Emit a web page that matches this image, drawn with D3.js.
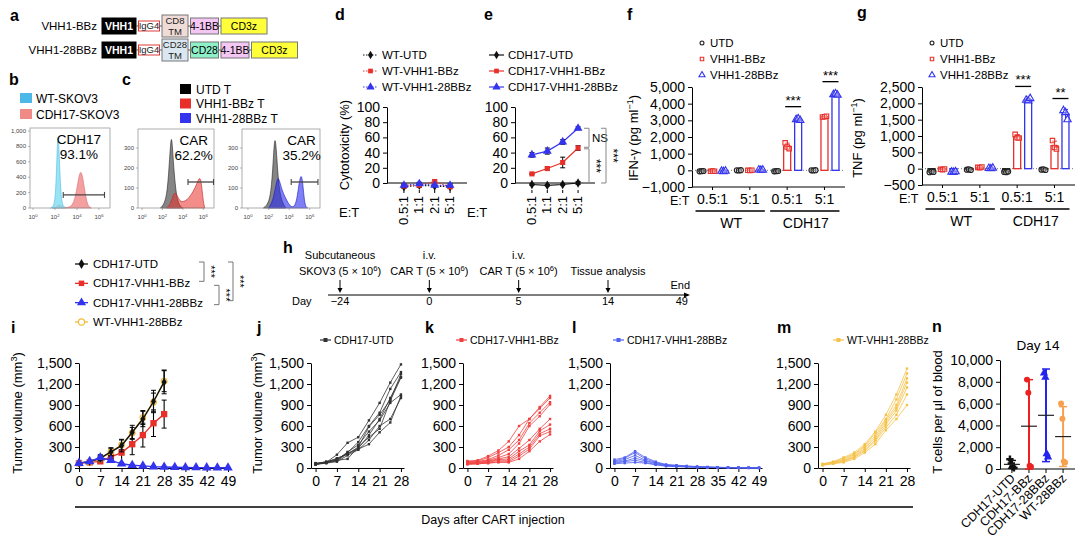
<!DOCTYPE html>
<html><head><meta charset="utf-8">
<script src="https://cdn.jsdelivr.net/npm/d3@7"></script>
<style>
body{margin:0;background:#fff}
svg{display:block;font-family:"Liberation Sans",Arial,Helvetica,sans-serif}
</style></head><body>
<svg id="fig" width="1080" height="549"></svg>
<script>
// ================= DATA =================
// a
const constructNames = ["VHH1-BBz", "VHH1-28BBz"];
const partsBBz = ["VHH1", "IgG4", "CD8 TM", "4-1BB", "CD3z"];
const parts28BBz = ["VHH1", "IgG4", "CD28 TM", "CD28", "4-1BB", "CD3z"];
// b  (log10 fluorescence, count)
const bLegend = ["WT-SKOV3", "CDH17-SKOV3"];
const histWT = [[1.6,0],[1.8,15],[1.95,60],[2.05,200],[2.15,520],[2.22,860],[2.28,950],[2.35,820],[2.45,450],[2.55,180],[2.65,60],[2.8,10],[3.0,0]];
const histCDH17 = [[1.8,0],[2.1,15],[2.3,40],[2.45,45],[2.6,20],[2.9,5],[3.3,8],[3.6,40],[3.85,140],[4.05,300],[4.2,430],[4.35,480],[4.5,420],[4.7,230],[4.9,70],[5.1,10],[5.3,0]];
const gateB = [2.75, 6.5, 170];
const bText = ["CDH17", "93.1%"];
const bYTicks = [0, 200, 400, 600, 800, 1000];
// c
const cLegend = ["UTD T", "VHH1-BBz T", "VHH1-28BBz T"];
const histUTD1 = [[1.8,0],[2.2,20],[2.5,90],[2.7,250],[2.85,360],[2.95,330],[3.1,200],[3.3,90],[3.5,30],[3.8,5],[4.0,0]];
const histBBz = [[2.4,0],[2.8,20],[3.05,65],[3.25,80],[3.45,60],[3.7,35],[4.0,30],[4.4,40],[4.8,65],[5.2,100],[5.5,140],[5.7,155],[5.85,110],[6.0,30],[6.15,0]];
const histUTD2 = [[1.5,0],[2.0,20],[2.3,100],[2.5,280],[2.62,360],[2.75,300],[2.9,170],[3.1,70],[3.4,20],[3.7,0]];
const hist28BBz = [[2.0,0],[2.4,30],[2.7,110],[2.9,155],[3.05,140],[3.3,90],[3.6,55],[3.9,25],[4.2,5],[4.5,5],[4.75,40],[4.95,120],[5.15,170],[5.3,140],[5.45,50],[5.6,5],[5.8,0]];
const gateC1 = [4.5, 7.0, 130];
const gateC2 = [4.2, 6.8, 130];
const c1Text = ["CAR", "62.2%"];
const c2Text = ["CAR", "35.2%"];
const cYTicks = [0, 100, 200, 300];
const logTicks = [0, 2, 4, 6];
// d, e  cytotoxicity (%)
const etRatios = ["0.5:1", "1:1", "2:1", "5:1"];
const dNames = ["WT-UTD", "WT-VHH1-BBz", "WT-VHH1-28BBz"];
const wtUTD = [-5, -3, -4, -5],   wtUTDsd = [2, 2, 1, 2];
const wtBBz = [-4, -3, 2, -5],    wtBBzSd = [2, 3, 2, 1];
const wt28BBz = [-3, -1, -3, -3], wt28BBzSd = [2, 2, 1, 2];
const eNames = ["CDH17-UTD", "CDH17-VHH1-BBz", "CDH17-VHH1-28BBz"];
const cdhUTD = [-2, -3, -2, 0],      cdhUTDsd = [1, 1, 1, 2];
const cdhBBz = [12, 19, 27, 46],     cdhBBzSd = [1, 2, 7, 3];
const cdh28BBz = [37, 42, 54, 72],   cdh28BBzSd = [3, 4, 3, 2];
const cytoTicks = [0, 20, 40, 60, 80, 100];
// f, g  cytokines (pg/ml), replicates
const cyGroups = ["WT 0.5:1", "WT 5:1", "CDH17 0.5:1", "CDH17 5:1"];
const cyTickLabels = ["0.5:1", "5:1", "0.5:1", "5:1"];
const cyTargets = ["WT", "CDH17"];
const cyNames = ["UTD", "VHH1-BBz", "VHH1-28BBz"];
const ifnUTD   = [[-60,-50,-40], [0,-10,10], [-60,-50,-40], [0,-10,10]];
const ifnBBz   = [[-60,-40,-50], [0,-10,10], [1650,1400,1300], [3200,3220,3250]];
const ifn28BBz = [[-50,-70,-40], [30,10,20], [3050,3100,3000], [4550,4600,4520]];
const ifnTicks = [-1000, 0, 1000, 2000, 3000, 4000, 5000];
const tnfUTD   = [[-110,-90,-100], [-30,-20,-40], [-100,-110,-90], [-30,-20,-40]];
const tnfBBz   = [[-20,-30,-10], [40,30,50], [1050,950,940], [860,650,600]];
const tnf28BBz = [[-100,-110,-90], [10,0,20], [2100,2080,2150], [1780,1720,1500]];
const tnfTicks = [-500, 0, 500, 1000, 1500, 2000, 2500];
const ifnSig = [["CDH17 0.5:1", "***"], ["CDH17 5:1", "***"]];
const tnfSig = [["CDH17 0.5:1", "***"], ["CDH17 5:1", "**"]];
// h  timeline
const hDays = ["−24", "0", "5", "14"];
const hTop = ["Subcutaneous", "i.v.", "i.v.", ""];
const hMid = [["SKOV3 (5 × 10", "6", ")"], ["CAR T (5 × 10", "6", ")"], ["CAR T (5 × 10", "6", ")"], ["Tissue analysis", "", ""]];
const hEnd = ["End", "49"];
// i  mean tumour volume (mm3)
const iNames = ["CDH17-UTD", "CDH17-VHH1-BBz", "CDH17-VHH1-28BBz", "WT-VHH1-28BBz"];
const daysShort = [0, 3.5, 7, 10.5, 14, 17.5, 21, 24.5, 28];
const daysLong = [0, 3.5, 7, 10.5, 14, 17.5, 21, 24.5, 28, 31.5, 35, 38.5, 42, 45.5, 49];
const iUTD = [70, 90, 140, 230, 320, 510, 700, 950, 1230];
const iUTDerr = [10, 15, 40, 60, 90, 100, 110, 160, 170];
const iBBz = [70, 80, 95, 160, 220, 340, 470, 640, 770];
const iBBzErr = [10, 15, 30, 60, 140, 150, 170, 190, 200];
const i28BBz = [70, 95, 150, 110, 60, 40, 30, 20, 15, 10, 8, 6, 5, 4, 3];
const i28BBzErr = [10, 15, 40, 30, 15, 10, 8, 6, 5, 4, 3, 3, 2, 2, 2];
const iWT = [70, 85, 130, 230, 330, 500, 720, 940, 1240];
const iWTerr = [10, 15, 40, 50, 70, 80, 100, 130, 150];
const volTicks = [0, 300, 600, 900, 1200, 1500];
const ticks28 = [0, 7, 14, 21, 28];
const ticks49 = [0, 7, 14, 21, 28, 35, 42, 49];
// j-m individual mice
const jMice = [
 [60, 80, 190, 360, 440, 680, 930, 1220, 1480],
 [50, 70, 120, 220, 370, 600, 790, 1130, 1370],
 [60, 90, 130, 200, 300, 590, 760, 970, 1340],
 [50, 80, 100, 210, 280, 470, 700, 1000, 1300],
 [70, 80, 110, 230, 330, 520, 680, 930, 1050],
 [60, 70, 90, 180, 260, 400, 600, 700, 1000],
 [50, 80, 140, 200, 270, 340, 510, 650, 1030],
 [60, 90, 110, 130, 300, 440, 560, 960, 1290]];
const kMice = [
 [100, 110, 170, 250, 380, 600, 700, 870, 1030],
 [90, 100, 150, 220, 300, 470, 700, 850, 1000],
 [80, 90, 120, 180, 260, 400, 640, 790, 940],
 [80, 90, 110, 150, 200, 350, 600, 740, 910],
 [70, 80, 100, 130, 160, 280, 400, 560, 700],
 [70, 70, 90, 120, 130, 240, 330, 530, 620],
 [60, 70, 80, 110, 110, 200, 300, 490, 560],
 [60, 60, 70, 90, 90, 170, 270, 460, 520],
 [50, 60, 70, 80, 80, 130, 240, 380, 480]];
const lMice = [
 [120, 150, 240, 150, 90, 50, 40, 30, 20, 15, 10, 8, 5, 3, 2],
 [100, 140, 220, 130, 80, 45, 35, 25, 18, 12, 9, 6, 4, 3, 2],
 [90, 120, 180, 110, 70, 40, 30, 22, 15, 10, 8, 5, 4, 2, 1],
 [80, 100, 140, 100, 60, 35, 25, 20, 14, 10, 7, 5, 3, 2, 1],
 [70, 90, 110, 80, 50, 30, 22, 18, 12, 9, 6, 4, 3, 2, 1],
 [60, 70, 80, 70, 45, 25, 20, 15, 10, 8, 5, 3, 2, 1, 1]];
const mMice = [
 [60, 90, 150, 220, 340, 520, 760, 1050, 1420],
 [55, 85, 140, 200, 320, 500, 700, 980, 1350],
 [50, 80, 120, 190, 300, 460, 680, 900, 1280],
 [50, 75, 110, 170, 280, 430, 650, 860, 1220],
 [45, 70, 100, 160, 260, 400, 620, 820, 1150],
 [40, 65, 90, 150, 240, 380, 580, 760, 1050],
 [40, 60, 80, 130, 220, 340, 540, 700, 900]];
// n  T cells per ul blood, day 14
const nGroups = ["CDH17-UTD", "CDH17-BBz", "CDH17-28BBz", "WT-28BBz"];
const nUTD = [900, 500, 200, 100];
const nBBz = [8200, 7000, 300, 200];
const n28BBz = [8800, 8400, 1400, 1100];
const nWT = [6000, 4600, 700, 600];
const nTicks = [0, 2000, 4000, 6000, 8000, 10000];

// ================= STYLE / HELPERS =================
const FONT = '"Liberation Sans",Arial,Helvetica,sans-serif';
const COL = {black: "#111", red: "#e8302a", blue: "#3434ee", yellow: "#f2bb35", orange: "#f6a14e", grey: "#555"};
const svg = d3.select("#fig");
svg.append("rect").attr("width", 1080).attr("height", 549).attr("fill", "#fff");

function txt(g, x, y, s, o = {}) {
  const t = g.append("text").attr("x", x).attr("y", y).text(s)
    .attr("font-size", o.size || 12).attr("text-anchor", o.anchor || "start")
    .attr("fill", o.fill || "#000").attr("font-family", FONT);
  if (o.weight) t.attr("font-weight", o.weight);
  if (o.rotate) t.attr("transform", `rotate(${o.rotate},${x},${y})`);
  return t;
}
function rich(g, x, y, parts, o = {}) {
  const t = g.append("text").attr("x", x).attr("y", y).attr("font-size", o.size || 12)
    .attr("text-anchor", o.anchor || "start").attr("font-family", FONT).attr("fill", o.fill || "#000");
  if (o.rotate) t.attr("transform", `rotate(${o.rotate},${x},${y})`);
  t.append("tspan").text(parts[0]);
  if (parts[1]) t.append("tspan").text(parts[1]).attr("baseline-shift", "super").attr("font-size", "70%");
  if (parts[2]) t.append("tspan").text(parts[2]);
  return t;
}
function sym(type, size) {
  const m = {diamond: d3.symbolDiamond, square: d3.symbolSquare, triangle: d3.symbolTriangle, circle: d3.symbolCircle, cross: d3.symbolCross};
  return d3.symbol().type(m[type]).size(size)();
}
function styleAxis(a, size) {
  a.attr("font-family", FONT);
  a.selectAll("text").attr("font-size", size || 14).attr("fill", "#000");
  a.selectAll("line").attr("stroke", "#000");
  a.select(".domain").attr("stroke", "#000");
  return a;
}
const fmtComma = d3.format(",");

// ================= PANEL LABELS =================
const panelLabels = [["a",10,21],["b",9,85],["c",122,85],["d",335,20],["e",484,20],["f",627,20],["g",857,18],["h",283,253],["i",11,333],["j",257,333],["k",425,333],["l",572,333],["m",777,333],["n",932,332]];
panelLabels.forEach(p => txt(svg, p[1], p[2], p[0], {size: 16, weight: "bold"}));

// ================= A =================
(function () {
  const g = svg.append("g");
  const style = {
    "VHH1": {w: 34, h: 16, fill: "#000", stroke: "#000", color: "#fff", bold: true, size: 10.5},
    "IgG4": {w: 21, h: 10, fill: "#fff", stroke: "#e03a3a", color: "#222", size: 9.5},
    "CD8 TM": {w: 26, h: 22, fill: "#efdcd6", stroke: "#777", color: "#222", size: 9.5},
    "CD28 TM": {w: 26, h: 22, fill: "#dbe7f0", stroke: "#777", color: "#222", size: 9.5},
    "CD28": {w: 28, h: 16, fill: "#8ef0c8", stroke: "#777", color: "#000", size: 10.5},
    "4-1BB": {w: 28, h: 16, fill: "#f4c6f4", stroke: "#777", color: "#000", size: 10.5},
    "CD3z": {w: 46, h: 16, fill: "#ffff3a", stroke: "#777", color: "#000", size: 10.5}
  };
  const rows = [partsBBz, parts28BBz];
  const cy = d3.scalePoint().domain(constructNames).range([26, 50]);
  rows.forEach((parts, ri) => {
    const y = cy(constructNames[ri]);
    txt(g, 97, y + 4, constructNames[ri], {size: 11.5, anchor: "end"});
    let x = 102;
    parts.forEach((p, pi) => {
      const s = style[p];
      if (pi > 0) g.append("line").attr("x1", x - 2.5).attr("x2", x).attr("y1", y).attr("y2", y).attr("stroke", "#555").attr("stroke-width", 1);
      g.append("rect").attr("x", x).attr("y", y - s.h / 2).attr("width", s.w).attr("height", s.h)
        .attr("fill", s.fill).attr("stroke", s.stroke).attr("stroke-width", 1);
      const words = p.split(" ");
      if (words.length === 2) {
        txt(g, x + s.w / 2, y - 2, words[0], {size: s.size, anchor: "middle", fill: s.color});
        txt(g, x + s.w / 2, y + 9, words[1], {size: s.size, anchor: "middle", fill: s.color});
      } else {
        txt(g, x + s.w / 2, y + s.size * 0.36, p, {size: s.size, anchor: "middle", fill: s.color, weight: s.bold ? "bold" : null});
      }
      x += s.w + 2.5;
    });
  });
})();

// ================= B, C histograms =================
function histPlot(frame, xdom, ydom, yticks, series, gate, lines) {
  const g = svg.append("g");
  const x = d3.scaleLinear().domain(xdom).range([frame[0], frame[1]]);
  const y = d3.scaleLinear().domain(ydom).range([frame[3], frame[2]]);
  const area = d3.area().x(d => x(d[0])).y0(y(0)).y1(d => y(d[1])).curve(d3.curveBasis);
  series.forEach(s => {
    g.append("path").datum(s.data).attr("d", area).attr("fill", s.fill).attr("fill-opacity", s.op)
      .attr("stroke", s.stroke).attr("stroke-width", 0.6);
  });
  g.append("rect").attr("x", frame[0]).attr("y", frame[2]).attr("width", frame[1] - frame[0]).attr("height", frame[3] - frame[2])
    .attr("fill", "none").attr("stroke", "#9a9a9a").attr("stroke-width", 0.8);
  yticks.forEach(v => {
    g.append("line").attr("x1", frame[0] - 2).attr("x2", frame[0]).attr("y1", y(v)).attr("y2", y(v)).attr("stroke", "#888").attr("stroke-width", 0.6);
    txt(g, frame[0] - 4, y(v) + 2, fmtComma(v), {size: 6, anchor: "end", fill: "#444"});
  });
  logTicks.forEach(v => {
    g.append("line").attr("x1", x(v)).attr("x2", x(v)).attr("y1", frame[3]).attr("y2", frame[3] + 2).attr("stroke", "#888").attr("stroke-width", 0.6);
    rich(g, x(v), frame[3] + 11, ["10", String(v), ""], {size: 6, anchor: "middle", fill: "#444"});
  });
  const gy = y(gate[2]);
  g.append("line").attr("x1", x(gate[0])).attr("x2", x(gate[1])).attr("y1", gy).attr("y2", gy).attr("stroke", "#444").attr("stroke-width", 1.3);
  [gate[0], gate[1]].forEach(v => g.append("line").attr("x1", x(v)).attr("x2", x(v)).attr("y1", gy - 3).attr("y2", gy + 3).attr("stroke", "#444").attr("stroke-width", 1.1));
  const cx = x((gate[0] + gate[1]) / 2) + lines.dx;
  txt(g, cx, frame[2] + 16, lines.t[0], {size: 13.5, anchor: "middle"});
  txt(g, cx, frame[2] + 31, lines.t[1], {size: 13.5, anchor: "middle"});
}
[["#4cb8e8", bLegend[0]], ["#f08a84", bLegend[1]]].forEach(d => {
  const yc = d3.scalePoint().domain(bLegend).range([98, 114])(d[1]);
  svg.append("rect").attr("x", 20).attr("y", yc - 5).attr("width", 12).attr("height", 10).attr("fill", d[0]);
  txt(svg, 36, yc + 4.5, d[1], {size: 12});
});
histPlot([30, 110, 128, 208], [-0.27, 7.0], [0, 1040], bYTicks,
  [{data: histCDH17, fill: "#f08080", stroke: "#d86a6a", op: 0.75}, {data: histWT, fill: "#80dcf2", stroke: "#4cbde6", op: 0.8}],
  gateB, {t: bText, dx: -5});
[["#000", cLegend[0]], ["#e8302a", cLegend[1]], ["#3434ee", cLegend[2]]].forEach(d => {
  const yc = d3.scalePoint().domain(cLegend).range([89, 118])(d[1]);
  svg.append("rect").attr("x", 180).attr("y", yc - 5).attr("width", 11).attr("height", 10).attr("fill", d[0]);
  txt(svg, 196, yc + 4.5, d[1], {size: 12});
});
histPlot([138, 214, 129, 208], [-0.4, 7.05], [0, 395], cYTicks,
  [{data: histUTD1, fill: "#333", stroke: "#222", op: 0.6}, {data: histBBz, fill: "#e8302a", stroke: "#c02020", op: 0.55}],
  gateC1, {t: c1Text, dx: -7});
histPlot([242, 320, 129, 208], [-0.58, 7.0], [0, 395], cYTicks,
  [{data: histUTD2, fill: "#333", stroke: "#222", op: 0.6}, {data: hist28BBz, fill: "#2a2af0", stroke: "#1818c0", op: 0.6}],
  gateC2, {t: c2Text, dx: -3});

// ================= D, E cytotoxicity =================
function cytoPanel(ax0, ax1, names, series, dashed, legX, brackets) {
  const g = svg.append("g");
  const y = d3.scaleLinear().domain([0, 100]).range([183, 107]);
  const x = d3.scalePoint().domain(etRatios).range([ax0, ax1]).padding(1.1);
  styleAxis(g.append("g").attr("transform", `translate(${ax0},0)`)
    .call(d3.axisLeft(y).tickValues(cytoTicks).tickSize(4).tickPadding(3).tickSizeOuter(0)));
  g.append("line").attr("x1", ax0).attr("x2", ax1).attr("y1", y(0)).attr("y2", y(0)).attr("stroke", "#000");
  etRatios.forEach(r => {
    g.append("line").attr("x1", x(r)).attr("x2", x(r)).attr("y1", 190).attr("y2", 193).attr("stroke", "#000");
    txt(g, x(r) + 4, 196, r, {size: 13, anchor: "end", rotate: -90});
  });
  txt(g, ax0 - 48, 217, "E:T", {size: 13});
  const line = d3.line().x((d, i) => x(etRatios[i])).y(d => y(d));
  series.forEach(s => {
    g.append("path").datum(s.v).attr("d", line).attr("fill", "none").attr("stroke", s.c).attr("stroke-width", 1.2)
      .attr("stroke-dasharray", dashed ? "1.5,1.5" : null);
    s.v.forEach((v, i) => {
      const xx = x(etRatios[i]);
      g.append("line").attr("x1", xx).attr("x2", xx).attr("y1", y(v - s.e[i])).attr("y2", y(v + s.e[i])).attr("stroke", "#000");
      [v - s.e[i], v + s.e[i]].forEach(w => g.append("line").attr("x1", xx - 2.5).attr("x2", xx + 2.5).attr("y1", y(w)).attr("y2", y(w)).attr("stroke", "#000"));
      g.append("path").attr("d", sym(s.m, s.m === "triangle" ? 34 : 26)).attr("transform", `translate(${xx},${y(v)})`).attr("fill", s.c);
    });
  });
  const ly = d3.scalePoint().domain(names).range([55, 87]);
  series.forEach((s, i) => {
    const yy = ly(names[i]);
    g.append("line").attr("x1", legX).attr("x2", legX + 15).attr("y1", yy).attr("y2", yy).attr("stroke", s.c).attr("stroke-width", 1.2).attr("stroke-dasharray", dashed ? "1.5,1.5" : null);
    g.append("path").attr("d", sym(s.m, s.m === "triangle" ? 30 : 22)).attr("transform", `translate(${legX + 7.5},${yy})`).attr("fill", s.c);
    txt(g, legX + 19, yy + 4, names[i], {size: 11.5});
  });
  (brackets || []).forEach(b => {
    const y1 = y(b.from), y2 = y(b.to);
    g.append("path").attr("d", `M${b.x - 5},${y1}H${b.x}V${y2}H${b.x - 5}`).attr("fill", "none").attr("stroke", "#888").attr("stroke-width", 1);
    if (b.label === "NS") txt(g, b.x + 3, (y1 + y2) / 2 + 4, "NS", {size: 11.5});
    else txt(g, b.x + 3, (y1 + y2) / 2, b.label, {size: 12, anchor: "middle", rotate: 90});
  });
}
cytoPanel(387, 467, dNames, [
  {v: wtUTD, e: wtUTDsd, c: COL.black, m: "diamond"},
  {v: wtBBz, e: wtBBzSd, c: COL.red, m: "square"},
  {v: wt28BBz, e: wt28BBzSd, c: COL.blue, m: "triangle"}], true, 363);
cytoPanel(515, 595, eNames, [
  {v: cdhUTD, e: cdhUTDsd, c: COL.black, m: "diamond"},
  {v: cdhBBz, e: cdhBBzSd, c: COL.red, m: "square"},
  {v: cdh28BBz, e: cdh28BBzSd, c: COL.blue, m: "triangle"}], false, 489,
  [{from: cdh28BBz[3], to: cdhBBz[3] + 1, x: 589, label: "NS"},
   {from: cdhBBz[3] - 1, to: 0, x: 589, label: "***"},
   {from: cdh28BBz[3], to: 0, x: 606, label: "***"}]);
rich(svg, 349, 145, ["Cytotoxicity (%)", "", ""], {size: 13, anchor: "middle", rotate: -90});

// ================= F, G cytokines =================
function barPanel(o) {
  const g = svg.append("g");
  const y = d3.scaleLinear().domain(o.dom).range([o.yb, o.yt]);
  const x = d3.scalePoint().domain(cyGroups).range([o.x0, o.x1]).padding(0.55);
  const off = d3.scalePoint().domain(cyNames).range([-11, 11]);
  const jit = d3.scalePoint().domain([0, 1, 2]).range([-2, 2]);
  styleAxis(g.append("g").attr("transform", `translate(${o.x0},0)`)
    .call(d3.axisLeft(y).tickValues(o.ticks).tickFormat(fmtComma).tickSize(4).tickPadding(3).tickSizeOuter(0)));
  g.append("line").attr("x1", o.x0).attr("x2", o.x1).attr("y1", o.yb).attr("y2", o.yb).attr("stroke", "#000");
  g.append("line").attr("x1", o.x0).attr("x2", o.x1).attr("y1", y(0)).attr("y2", y(0)).attr("stroke", "#777").attr("stroke-dasharray", "1,2");
  cyGroups.forEach((gr, i) => {
    g.append("line").attr("x1", x(gr)).attr("x2", x(gr)).attr("y1", o.yb).attr("y2", o.yb + 3).attr("stroke", "#000");
    txt(g, x(gr), o.yb + 17, cyTickLabels[i], {size: 14, anchor: "middle"});
  });
  txt(g, o.etX, o.yb + 18, "E:T", {size: 12.5});
  cyTargets.forEach((t, ti) => {
    const a = x(cyGroups[ti * 2]), b = x(cyGroups[ti * 2 + 1]);
    g.append("line").attr("x1", a - 17).attr("x2", b + 15).attr("y1", o.yb + 24).attr("y2", o.yb + 24).attr("stroke", "#000").attr("stroke-width", 1.3);
    txt(g, (a + b) / 2, o.yb + 41, t, {size: 14, anchor: "middle"});
  });
  const ser = [{d: o.utd, c: "#222", m: "circle"}, {d: o.bbz, c: COL.red, m: "square"}, {d: o.b28, c: COL.blue, m: "triangle"}];
  ser.forEach((s, si) => {
    s.d.forEach((reps, gi) => {
      const cx = x(cyGroups[gi]) + off(cyNames[si]);
      const mean = d3.mean(reps), sd = d3.deviation(reps);
      const y0 = y(0), ym = y(mean);
      g.append("rect").attr("x", cx - 3.5).attr("y", Math.min(y0, ym)).attr("width", 7).attr("height", Math.abs(ym - y0))
        .attr("fill", "none").attr("stroke", s.c).attr("stroke-width", 1.3);
      g.append("line").attr("x1", cx).attr("x2", cx).attr("y1", y(mean - sd)).attr("y2", y(mean + sd)).attr("stroke", s.c);
      g.append("line").attr("x1", cx - 2.5).attr("x2", cx + 2.5).attr("y1", y(mean + sd)).attr("y2", y(mean + sd)).attr("stroke", s.c);
      reps.forEach((v, ri) => {
        g.append("path").attr("d", sym(s.m, s.m === "triangle" ? 24 : 20)).attr("transform", `translate(${cx + jit(ri)},${y(v)})`)
          .attr("fill", "#fff").attr("fill-opacity", 0.3).attr("stroke", s.c).attr("stroke-width", 1.1);
      });
    });
  });
  o.sig.forEach(sg => {
    const gi = cyGroups.indexOf(sg[0]);
    const top = d3.max([o.bbz[gi], o.b28[gi]].flat());
    const yy = y(top) - 12;
    const cx = x(sg[0]);
    g.append("line").attr("x1", cx - 2).attr("x2", cx + 14).attr("y1", yy).attr("y2", yy).attr("stroke", "#000").attr("stroke-width", 1.3);
    txt(g, cx + 6, yy - 2, sg[1], {size: 13, anchor: "middle"});
  });
  const ly = d3.scalePoint().domain(cyNames).range([43, 75]);
  ser.forEach((s, si) => {
    const yy = ly(cyNames[si]);
    g.append("path").attr("d", sym(s.m, s.m === "triangle" ? 16 : 12)).attr("transform", `translate(${o.legX},${yy})`)
      .attr("fill", "none").attr("stroke", s.c).attr("stroke-width", 1.1);
    txt(g, o.legX + 8, yy + 4, cyNames[si], {size: 11.5});
  });
  rich(g, o.titleX, 138, o.title, {size: 13, anchor: "middle", rotate: -90});
}
barPanel({x0: 692, x1: 845, yt: 87, yb: 187, dom: [-1000, 5000], ticks: ifnTicks, utd: ifnUTD, bbz: ifnBBz, b28: ifn28BBz,
  sig: ifnSig, legX: 702, etX: 670, titleX: 638, title: ["IFN-γ (pg ml", "−1", ")"]});
barPanel({x0: 922, x1: 1075, yt: 87, yb: 185, dom: [-500, 2500], ticks: tnfTicks, utd: tnfUTD, bbz: tnfBBz, b28: tnf28BBz,
  sig: tnfSig, legX: 932, etX: 899, titleX: 862, title: ["TNF (pg ml", "−1", ")"]});

// ================= H timeline =================
(function () {
  const g = svg.append("g");
  const x = d3.scalePoint().domain(hDays).range([340, 608]);
  const ay = 295;
  g.append("line").attr("x1", 328).attr("x2", 688).attr("y1", ay).attr("y2", ay).attr("stroke", "#000");
  g.append("path").attr("d", `M690,${ay}l-6,-2.5v5z`).attr("fill", "#000");
  txt(g, 292, ay + 10, "Day", {size: 11});
  hDays.forEach((d, i) => {
    const xx = x(d);
    txt(g, xx, ay + 10, d, {size: 11, anchor: "middle"});
    g.append("line").attr("x1", xx).attr("x2", xx).attr("y1", 280).attr("y2", 290).attr("stroke", "#000");
    g.append("path").attr("d", `M${xx},${293}l-2.5,-5h5z`).attr("fill", "#000");
    if (hTop[i]) txt(g, xx, 259, hTop[i], {size: 11, anchor: "middle"});
    rich(g, xx, 275, hMid[i], {size: 11, anchor: "middle"});
  });
  txt(g, 690, 289, hEnd[0], {size: 11, anchor: "end"});
  txt(g, 688, ay + 10, hEnd[1], {size: 11, anchor: "end"});
})();

// ================= I legend =================
(function () {
  const g = svg.append("g");
  const ly = d3.scalePoint().domain(iNames).range([264, 322]);
  const ms = [["diamond", COL.black, true], ["square", COL.red, true], ["triangle", COL.blue, true], ["circle", COL.yellow, false]];
  iNames.forEach((n, i) => {
    const yy = ly(n);
    g.append("line").attr("x1", 75).attr("x2", 88).attr("y1", yy).attr("y2", yy).attr("stroke", ms[i][1]).attr("stroke-width", 1.3);
    g.append("path").attr("d", sym(ms[i][0], ms[i][0] === "triangle" ? 36 : 30)).attr("transform", `translate(81.5,${yy})`)
      .attr("fill", ms[i][2] ? ms[i][1] : "#fff").attr("stroke", ms[i][1]).attr("stroke-width", ms[i][2] ? 0 : 1.1);
    txt(g, 93, yy + 4, n, {size: 11.5});
  });
  const br = [[iNames[0], iNames[1], 204, 0], [iNames[1], iNames[2], 219, 1], [iNames[0], iNames[2], 233, 0]];
  br.forEach(b => {
    const y1 = ly(b[0]) - 2 + b[3] * 4, y2 = ly(b[1]) + (b[3] ? 2 : -2);
    g.append("path").attr("d", `M${b[2] - 5},${y1}H${b[2]}V${y2}H${b[2] - 5}`).attr("fill", "none").attr("stroke", "#666").attr("stroke-width", 0.9);
    txt(g, b[2] + 3, (y1 + y2) / 2, "***", {size: 11, anchor: "middle", rotate: 90});
  });
})();

// ================= I-M tumour curves =================
const yVol = d3.scaleLinear().domain([0, 1500]).range([468, 363]);
function volAxes(g, ax, xr, xdom, ticks) {
  const x = d3.scaleLinear().domain(xdom).range(xr);
  styleAxis(g.append("g").attr("transform", `translate(${ax},0)`)
    .call(d3.axisLeft(yVol).tickValues(volTicks).tickFormat(fmtComma).tickSize(4).tickPadding(3).tickSizeOuter(0)));
  styleAxis(g.append("g").attr("transform", `translate(0,${yVol(0)})`)
    .call(d3.axisBottom(x).tickValues(ticks).tickSize(4).tickPadding(4).tickSizeOuter(0)));
  return x;
}
function volTitle(x) { rich(svg, x, 413, ["Tumor volume (mm", "3", ")"], {size: 13, anchor: "middle", rotate: -90}); }
(function () {
  const g = svg.append("g");
  const x = volAxes(g, 79, [79, 228], [0, 49], ticks49);
  volTitle(22);
  const line = d3.line().x(d => x(d[0])).y(d => yVol(d[1]));
  const ser = [
    {days: daysShort, v: iBBz, e: iBBzErr, c: COL.red, m: "square", fill: true, s: 40},
    {days: daysShort, v: iWT, e: iWTerr, c: COL.yellow, m: "circle", fill: false, s: 26},
    {days: daysShort, v: iUTD, e: iUTDerr, c: COL.black, m: "diamond", fill: true, s: 22},
    {days: daysLong, v: i28BBz, e: i28BBzErr, c: COL.blue, m: "triangle", fill: true, s: 40}];
  ser.forEach(s => {
    const pts = s.v.map((v, k) => [s.days[k], v]);
    g.append("path").datum(pts).attr("d", line).attr("fill", "none").attr("stroke", s.c).attr("stroke-width", 1.4);
    pts.forEach((p, k) => {
      const xx = x(p[0]);
      g.append("line").attr("x1", xx).attr("x2", xx).attr("y1", yVol(p[1] - s.e[k])).attr("y2", yVol(p[1] + s.e[k])).attr("stroke", "#000").attr("stroke-width", 1.1);
      [p[1] - s.e[k], p[1] + s.e[k]].forEach(w => g.append("line").attr("x1", xx - 2.5).attr("x2", xx + 2.5).attr("y1", yVol(w)).attr("y2", yVol(w)).attr("stroke", "#000"));
    });
    pts.forEach(p => g.append("path").attr("d", sym(s.m, s.s)).attr("transform", `translate(${x(p[0])},${yVol(p[1])})`)
      .attr("fill", s.fill ? s.c : "#fff").attr("fill-opacity", s.fill ? 1 : 0.4).attr("stroke", s.c).attr("stroke-width", s.fill ? 0 : 1.1));
  });
})();
function micePanel(ax, xr, xdom, ticks, mice, days, color, name, legX) {
  const g = svg.append("g");
  const x = volAxes(g, ax, xr, xdom, ticks);
  const line = d3.line().x(d => x(d[0])).y(d => yVol(d[1]));
  mice.forEach(m => {
    const pts = m.map((v, k) => [days[k], v]);
    g.append("path").datum(pts).attr("d", line).attr("fill", "none").attr("stroke", color).attr("stroke-width", 0.8);
    pts.forEach(p => g.append("rect").attr("x", x(p[0]) - 1.2).attr("y", yVol(p[1]) - 1.2).attr("width", 2.4).attr("height", 2.4).attr("fill", color));
  });
  g.append("line").attr("x1", legX).attr("x2", legX + 11).attr("y1", 340).attr("y2", 340).attr("stroke", color).attr("stroke-width", 1.2);
  g.append("rect").attr("x", legX + 3.5).attr("y", 338).attr("width", 4).attr("height", 4).attr("fill", color);
  txt(g, legX + 14, 344, name, {size: 10.5});
}
micePanel(311, [311, 404], [-1.5, 29], ticks28, jMice, daysShort, "#333", iNames[0], 320);
volTitle(262);
micePanel(463, [463, 553], [-1.5, 29], ticks28, kMice, daysShort, "#f04040", iNames[1], 456);
micePanel(610, [610, 762], [-1.5, 50], ticks49, lMice, daysLong, "#5060f0", iNames[2], 613);
micePanel(818, [818, 910], [-1.5, 29], ticks28, mMice, daysShort, "#f5c24a", iNames[3], 833);

// ================= N =================
(function () {
  const g = svg.append("g");
  const y = d3.scaleLinear().domain([0, 10000]).range([469, 360]);
  const x = d3.scalePoint().domain(nGroups).range([1000, 1075]).padding(0.7);
  styleAxis(g.append("g").attr("transform", "translate(1000,0)")
    .call(d3.axisLeft(y).tickValues(nTicks).tickFormat(fmtComma).tickSize(4).tickPadding(3).tickSizeOuter(0)));
  g.append("line").attr("x1", 1000).attr("x2", 1075).attr("y1", y(0)).attr("y2", y(0)).attr("stroke", "#000");
  nGroups.forEach(n => {
    g.append("line").attr("x1", x(n)).attr("x2", x(n)).attr("y1", y(0)).attr("y2", y(0) + 4).attr("stroke", "#000");
    txt(g, x(n) + 4, 479, n, {size: 12.5, anchor: "end", rotate: -45});
  });
  txt(g, 1038, 350, "Day 14", {size: 13.5, anchor: "middle"});
  rich(g, 942, 412, ["T cells per μl of blood", "", ""], {size: 13, anchor: "middle", rotate: -90});
  const ser = [[nUTD, "#111", "cross", 30], [nBBz, "#ee2020", "circle", 28], [n28BBz, "#2424ee", "triangle", 30], [nWT, COL.orange, "circle", 28]];
  ser.forEach((s, i) => {
    const cx = x(nGroups[i]);
    const mean = d3.mean(s[0]), sd = d3.deviation(s[0]);
    const lo = Math.max(0, mean - sd), hi = mean + sd;
    g.append("line").attr("x1", cx).attr("x2", cx).attr("y1", y(lo)).attr("y2", y(hi)).attr("stroke", s[1]).attr("stroke-width", 2);
    [lo, hi].forEach(w => g.append("line").attr("x1", cx - 4).attr("x2", cx + 4).attr("y1", y(w)).attr("y2", y(w)).attr("stroke", s[1]).attr("stroke-width", 1.5));
    const jit = d3.scalePoint().domain([0, 1, 2, 3]).range([-2, 2]);
    s[0].forEach((v, k) => g.append("path").attr("d", sym(s[2], s[3])).attr("transform", `translate(${cx + jit(k)},${y(v)})`).attr("fill", s[1]));
    g.append("line").attr("x1", cx - 8).attr("x2", cx + 8).attr("y1", y(mean)).attr("y2", y(mean)).attr("stroke", "#222").attr("stroke-width", 1.2);
  });
})();

// ================= bottom shared x label =================
svg.append("line").attr("x1", 75).attr("x2", 913).attr("y1", 507).attr("y2", 507).attr("stroke", "#000").attr("stroke-width", 1.5);
txt(svg, 493, 524, "Days after CART injection", {size: 12.5, anchor: "middle"});
</script></body></html>
